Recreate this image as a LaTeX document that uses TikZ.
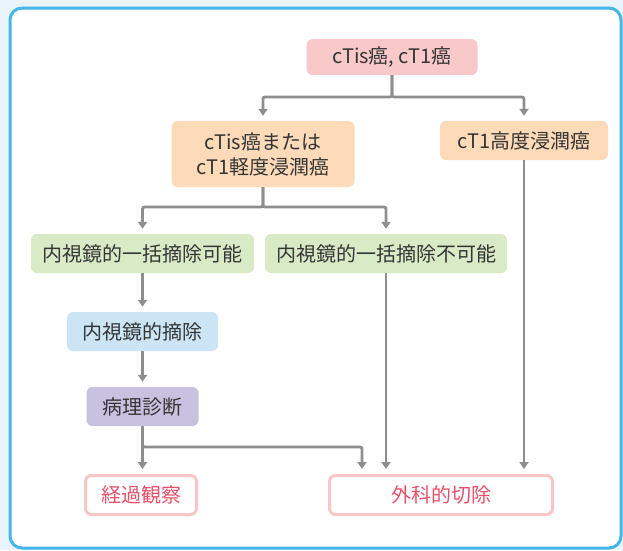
\documentclass[tikz,border=0pt]{standalone}
\usepackage{fontspec}
\newfontfamily\jp{Noto Sans CJK JP}
\usetikzlibrary{arrows.meta}
\definecolor{bgblue}{HTML}{EAF4FC}
\definecolor{frameblue}{HTML}{45B6E8}
\definecolor{cpink}{HTML}{F9C9C9}
\definecolor{cpeach}{HTML}{FDDBB9}
\definecolor{cgreen}{HTML}{D9EAC7}
\definecolor{clblue}{HTML}{CCE5F5}
\definecolor{cpurple}{HTML}{C9C1E0}
\definecolor{outpink}{HTML}{F8C6C6}
\definecolor{outtext}{HTML}{E8506A}
\definecolor{txt}{HTML}{353535}
\definecolor{arrgray}{HTML}{8E8E8E}
\tikzset{
  box/.style={rounded corners=6pt, inner sep=0pt, align=center, text=txt,
    font=\jp\fontsize{20}{25}\selectfont, minimum height=39pt},
  outbox/.style={box, draw=outpink, line width=3pt, fill=white, text=outtext, minimum height=39pt},
  arr/.style={draw=arrgray, line width=2.8pt, rounded corners=2pt,
    -{Triangle[length=7pt,width=9pt]}, shorten >=5pt},
}
\begin{document}
\begin{tikzpicture}[x=1pt,y=-1pt]
\useasboundingbox (0,0) rectangle (623,550);
\fill[bgblue] (0,0) rectangle (623,550);
\draw[frameblue, line width=3pt, fill=white, rounded corners=12pt] (10,8) rectangle (621,548);

\node[box, fill=cpink, minimum width=171pt, minimum height=36pt] (n1) at (392,57) {cTis癌, cT1癌};
\node[box, fill=cpeach, minimum width=183pt, minimum height=66pt] (n2) at (263,154) {cTis癌または\\cT1軽度浸潤癌};
\node[box, fill=cpeach, minimum width=168pt] (n3) at (524,140.5) {cT1高度浸潤癌};
\node[box, fill=cgreen, minimum width=223pt] (n4) at (142.5,253.5) {内視鏡的一括摘除可能};
\node[box, fill=cgreen, minimum width=242pt] (n5) at (386,253.5) {内視鏡的一括摘除不可能};
\node[box, fill=clblue, minimum width=151pt] (n6) at (142.5,331.5) {内視鏡的摘除};
\node[box, fill=cpurple, minimum width=112pt] (n7) at (142.5,406.5) {病理診断};
\node[outbox, minimum width=111pt] (n8) at (141,495) {経過観察};
\node[outbox, minimum width=223pt] (n9) at (441,495) {外科的切除};

\coordinate (j1) at (392,97);
\coordinate (j2) at (263,207);
\coordinate (j3) at (362,447);

\draw[arr] (n1.south) -- (j1) -| (n2.north);
\draw[arr] (n1.south) -- (j1) -| (n3.north);
\draw[arr] (n2.south) -- (j2) -| (n4.north);
\draw[arr] (n2.south) -- (j2) -| (n5.north);
\draw[arr] (n4.south) -- (n6.north);
\draw[arr] (n6.south) -- (n7.north);
\draw[arr] (n7.south) -- (n7.south |- n8.north);
\draw[arr] (n7.south) |- (j3) -- (j3 |- n9.north);
\draw[arr] (n5.south) -- (n5.south |- n9.north);
\draw[arr] (n3.south) -- (n3.south |- n9.north);
\end{tikzpicture}
\end{document}
